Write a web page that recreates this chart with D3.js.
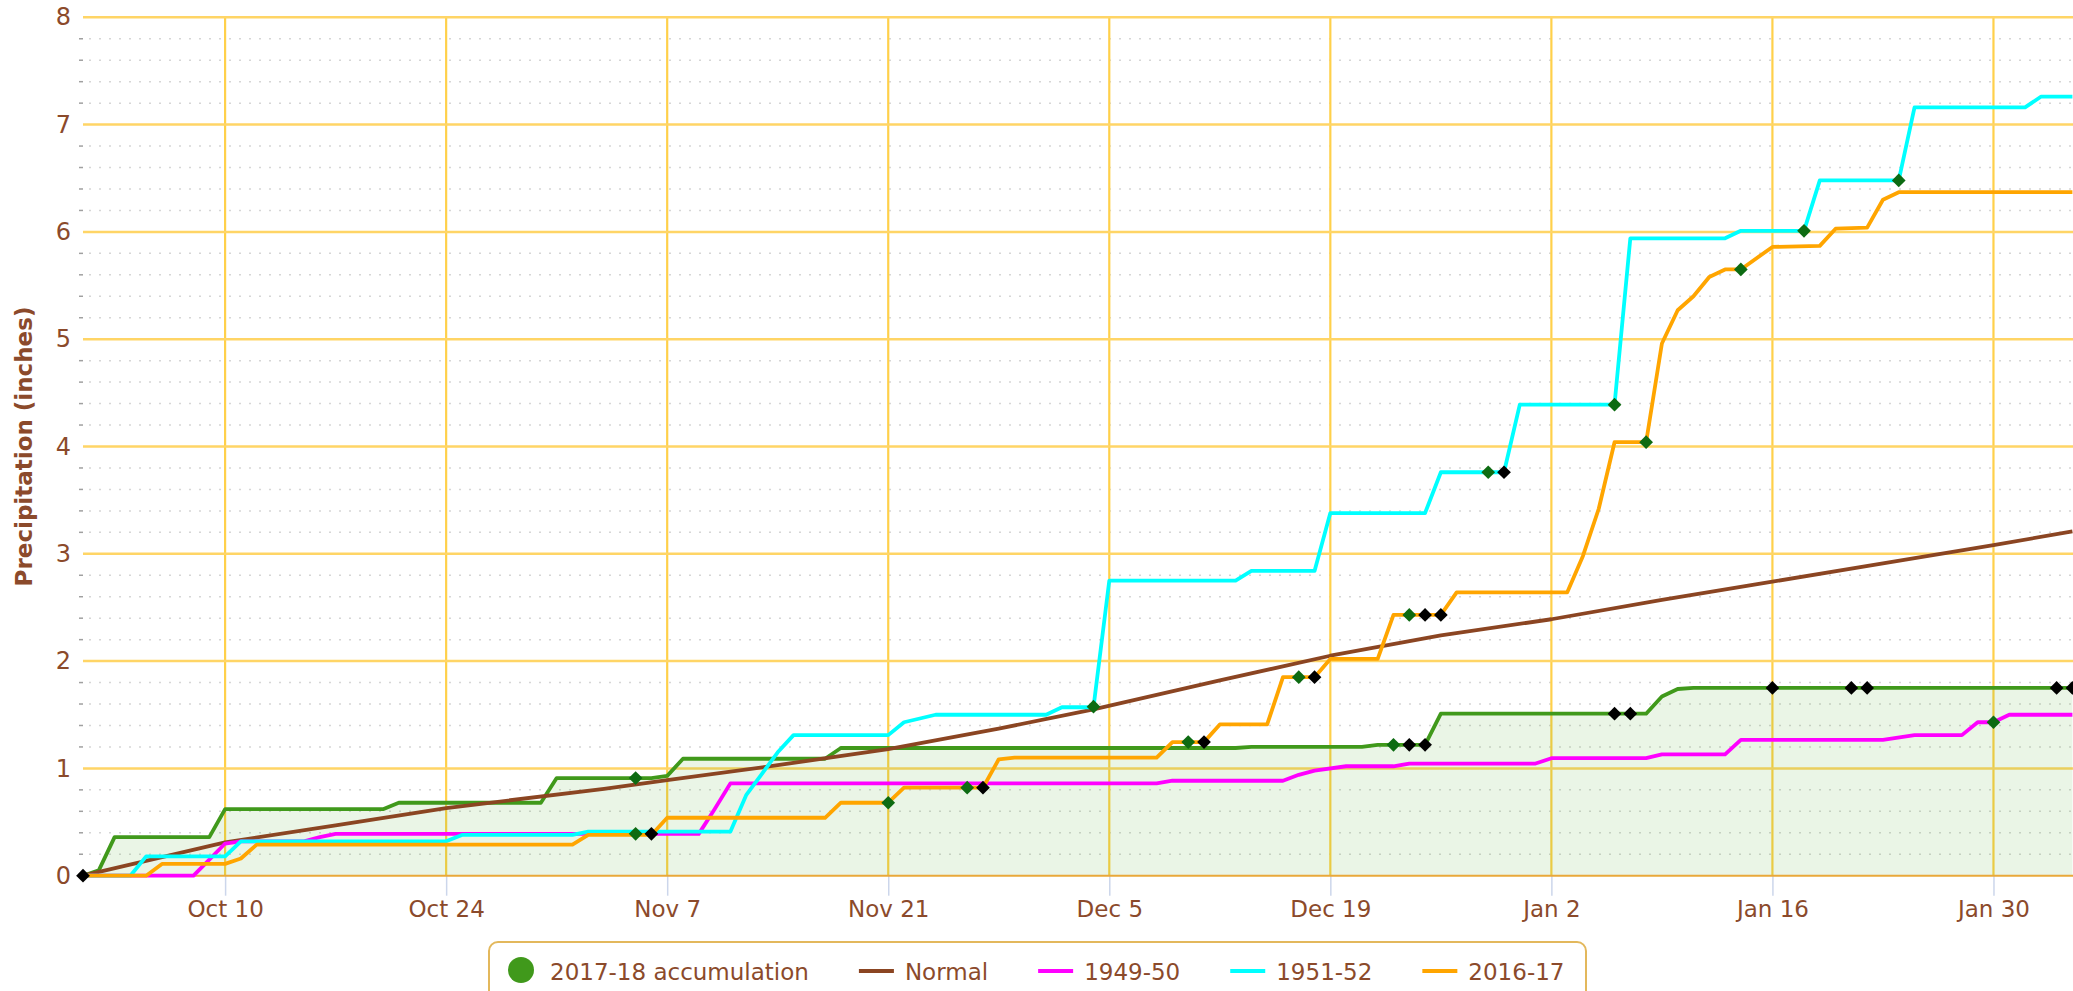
<!DOCTYPE html>
<html>
<head>
<meta charset="utf-8">
<script src="https://cdn.jsdelivr.net/npm/d3@7"></script>
<style>
  body { margin: 0; background: #fff; }
  svg { display: block; font-family: "DejaVu Sans", Verdana, sans-serif; }
</style>
</head>
<body>
<svg id="chart"></svg>
<script>
// season starts Oct 1 2017, values are [day offset, inches]
var seasonStart = "2017-10-01"

var accum2017 = [[0,0],[1,0.05],[2,0.36],[8,0.36],[9,0.62],[19,0.62],[20,0.68],[29,0.68],[30,0.91],[36,0.91],[37,0.93],[38,1.09],[47,1.09],[48,1.19],[73,1.19],[74,1.2],[81,1.2],[82,1.22],[85,1.22],[86,1.51],[99,1.51],[100,1.67],[101,1.74],[102,1.75],[126,1.75]]
var normal = [[0,0],[9,0.31],[16,0.47],[23,0.63],[33,0.81],[37,0.89],[44,1.03],[51,1.18],[58,1.37],[64,1.55],[72,1.82],[79,2.05],[86,2.24],[93,2.39],[100,2.57],[107,2.74],[114,2.91],[121,3.08],[126,3.21]]
var s1949 = [[0,0],[7,0],[8,0.15],[9,0.3],[10,0.32],[14,0.32],[15,0.36],[16,0.39],[39,0.39],[40,0.62],[41,0.86],[68,0.86],[69,0.885],[76,0.885],[77,0.94],[78,0.98],[80,1.02],[83,1.02],[84,1.045],[92,1.045],[93,1.095],[99,1.095],[100,1.13],[104,1.13],[105,1.266],[114,1.266],[116,1.31],[119,1.31],[120,1.43],[121,1.43],[122,1.5],[126,1.5]]
var s1951 = [[0,0],[3,0],[4,0.18],[9,0.18],[10,0.32],[23,0.32],[24,0.38],[31,0.38],[32,0.41],[41,0.41],[42,0.75],[43,0.95],[44,1.15],[45,1.31],[51,1.31],[52,1.43],[54,1.5],[61,1.5],[62,1.57],[64,1.57],[65,2.75],[73,2.75],[74,2.84],[78,2.84],[79,3.38],[85,3.38],[86,3.76],[90,3.76],[91,4.39],[97,4.39],[98,5.94],[104,5.94],[105,6.01],[109,6.01],[110,6.48],[115,6.48],[116,7.16],[123,7.16],[124,7.26],[126,7.26]]
var s2016 = [[0,0],[4,0],[5,0.11],[9,0.11],[10,0.16],[11,0.29],[31,0.29],[32,0.38],[36,0.38],[37,0.54],[47,0.54],[48,0.68],[51,0.68],[52,0.82],[57,0.82],[58,1.085],[59,1.1],[68,1.1],[69,1.245],[71,1.245],[72,1.41],[75,1.41],[76,1.85],[78,1.85],[79,2.02],[82,2.02],[83,2.43],[86,2.43],[87,2.64],[94,2.64],[95,2.98],[96,3.42],[97,4.04],[99,4.04],[100,4.96],[101,5.27],[102,5.4],[103,5.58],[104,5.65],[105,5.65],[107,5.86],[110,5.87],[111,6.03],[113,6.04],[114,6.3],[115,6.37],[126,6.37]]

var greenMarks = [[35,0.91],[35,0.39],[51,0.68],[56,0.82],[64,1.575],[70,1.245],[77,1.85],[83,1.22],[84,2.43],[89,3.76],[97,4.39],[99,4.04],[105,5.65],[109,6.01],[115,6.48],[121,1.43]]
var blackMarks = [[0,0],[36,0.39],[57,0.82],[71,1.245],[78,1.85],[84,1.22],[85,1.22],[85,2.43],[86,2.43],[90,3.76],[97,1.51],[98,1.51],[107,1.75],[112,1.75],[113,1.75],[125,1.75],[126,1.75]]

var tickDates = ["2017-10-10","2017-10-24","2017-11-07","2017-11-21","2017-12-05","2017-12-19","2018-01-02","2018-01-16","2018-01-30"]
var yTicks = [0,1,2,3,4,5,6,7,8]
var legendNames = ["2017-18 accumulation","Normal","1949-50","1951-52","2016-17"]
var seriesColors = ["#40991b","#8b4522","#ff00ff","#00ffff","#ffa500"]

var dimensions = {
    width: 2073,
    height: 991,
    margin: { top: 17.3, left: 83, bottom: 115.3 }
}
var textColor = "#8b4a2b"

var svg = d3.select("#chart")
            .attr("width", dimensions.width)
            .attr("height", dimensions.height)

var start = d3.utcParse("%Y-%m-%d")(seasonStart)
var dayToDate = d => d3.utcDay.offset(start, d)

var xScale = d3.scaleUtc()
               .domain([start, dayToDate(126)])
               .range([dimensions.margin.left, dimensions.margin.left + 126 * 15.789])
var yScale = d3.scaleLinear()
               .domain([0, 8])
               .range([dimensions.height - dimensions.margin.bottom, dimensions.margin.top])

var xAcc = d => xScale(dayToDate(d[0]))
var yAcc = d => yScale(d[1])
var plotRight = dimensions.width

// minor dotted grid every 0.2 inch
var minorVals = d3.range(1, 40).map(i => i * 0.2).filter(v => Math.abs(v - Math.round(v)) > 0.01)
svg.append("g")
   .selectAll("line")
   .data(minorVals)
   .enter()
   .append("line")
   .attr("x1", dimensions.margin.left + 6)
   .attr("x2", plotRight)
   .attr("y1", d => yScale(d))
   .attr("y2", d => yScale(d))
   .attr("stroke", "#d6d6d6")
   .attr("stroke-width", 1.5)
   .attr("stroke-dasharray", "2,8")
svg.append("g")
   .selectAll("line")
   .data(minorVals)
   .enter()
   .append("line")
   .attr("x1", dimensions.margin.left - 4)
   .attr("x2", dimensions.margin.left)
   .attr("y1", d => yScale(d))
   .attr("y2", d => yScale(d))
   .attr("stroke", "#a0a0a0")
   .attr("stroke-width", 1.5)

// major grid
var parseDay = d3.utcParse("%Y-%m-%d")
var tickVals = tickDates.map(parseDay)
svg.append("g")
   .selectAll("line")
   .data(tickVals)
   .enter()
   .append("line")
   .attr("x1", d => xScale(d))
   .attr("x2", d => xScale(d))
   .attr("y1", yScale(8))
   .attr("y2", yScale(0))
   .attr("stroke", "#ffd04a")
   .attr("stroke-width", 2.2)
svg.append("g")
   .selectAll("line")
   .data(yTicks.slice(1))
   .enter()
   .append("line")
   .attr("x1", dimensions.margin.left)
   .attr("x2", plotRight)
   .attr("y1", d => yScale(d))
   .attr("y2", d => yScale(d))
   .attr("stroke", "#ffd566")
   .attr("stroke-width", 2.5)

// area under this season
var area = d3.area()
             .x(xAcc)
             .y0(yScale(0))
             .y1(yAcc)
svg.append("path")
   .datum(accum2017)
   .attr("d", area)
   .attr("fill", "rgba(67,160,29,0.11)")

// x axis
var xAxisGen = d3.axisBottom(xScale)
                 .tickValues(tickVals)
                 .tickFormat(d3.utcFormat("%b %-d"))
                 .tickSize(20)
                 .tickPadding(5)
var xAxis = svg.append("g")
               .attr("transform", `translate(0,${yScale(0)})`)
               .call(xAxisGen)
xAxis.select(".domain").remove()
xAxis.selectAll(".tick line").attr("stroke", "#ccd6eb").attr("stroke-width", 1.5)
xAxis.selectAll(".tick text")
     .attr("fill", textColor)
     .style("font-size", "23px")
     .style("font-family", "DejaVu Sans")
svg.append("line")
   .attr("x1", dimensions.margin.left)
   .attr("x2", plotRight)
   .attr("y1", yScale(0))
   .attr("y2", yScale(0))
   .attr("stroke", "#e9a83a")
   .attr("stroke-width", 2)

// y axis labels
var yAxisGen = d3.axisLeft(yScale).tickValues(yTicks).tickSize(0).tickPadding(12)
var yAxis = svg.append("g")
               .attr("transform", `translate(${dimensions.margin.left},0)`)
               .call(yAxisGen)
yAxis.select(".domain").remove()
yAxis.selectAll(".tick text")
     .attr("fill", textColor)
     .style("font-size", "24px")
     .style("font-family", "DejaVu Sans")

svg.append("text")
   .attr("transform", `translate(32,${(yScale(0) + yScale(8)) / 2}) rotate(-90)`)
   .attr("text-anchor", "middle")
   .attr("fill", textColor)
   .style("font-size", "23px")
   .style("font-weight", "bold")
   .text("Precipitation (inches)")

// series lines
var line = d3.line().x(xAcc).y(yAcc)
var allSeries = [accum2017, normal, s1949, s1951, s2016]
svg.append("g")
   .selectAll("path")
   .data(allSeries)
   .enter()
   .append("path")
   .attr("d", line)
   .attr("fill", "none")
   .attr("stroke", (d, i) => seriesColors[i])
   .attr("stroke-width", 3.8)
   .attr("stroke-linejoin", "round")

// diamond markers
var diamond = d3.symbol().type(d3.symbolDiamond2).size(120)
svg.append("g")
   .selectAll("path")
   .data(greenMarks)
   .enter()
   .append("path")
   .attr("d", diamond)
   .attr("transform", d => `translate(${xAcc(d)},${yAcc(d)})`)
   .attr("fill", "#0d6b12")
svg.append("g")
   .selectAll("path")
   .data(blackMarks)
   .enter()
   .append("path")
   .attr("d", diamond)
   .attr("transform", d => `translate(${xAcc(d)},${yAcc(d)})`)
   .attr("fill", "#000")

// legend
var legend = svg.append("g")
legend.append("rect")
      .attr("x", 489)
      .attr("y", 942)
      .attr("width", 1097)
      .attr("height", 70)
      .attr("rx", 9)
      .attr("fill", "#fff")
      .attr("stroke", "#e3b85c")
      .attr("stroke-width", 2)

var legendX = 507
legendNames.forEach(function(name, i) {
    var item = legend.append("g").attr("transform", `translate(${legendX},0)`)
    if (i == 0) {
        item.append("circle")
            .attr("cx", 14)
            .attr("cy", 970)
            .attr("r", 13)
            .attr("fill", seriesColors[0])
    } else {
        item.append("line")
            .attr("x1", 0)
            .attr("x2", 35)
            .attr("y1", 971)
            .attr("y2", 971)
            .attr("stroke", seriesColors[i])
            .attr("stroke-width", 4)
    }
    var textX = i == 0 ? 43 : 46
    var label = item.append("text")
                    .attr("x", textX)
                    .attr("y", 980)
                    .attr("fill", textColor)
                    .style("font-size", "23px")
                    .text(name)
    legendX += textX + label.node().getComputedTextLength() + 50
})
</script>
</body>
</html>
